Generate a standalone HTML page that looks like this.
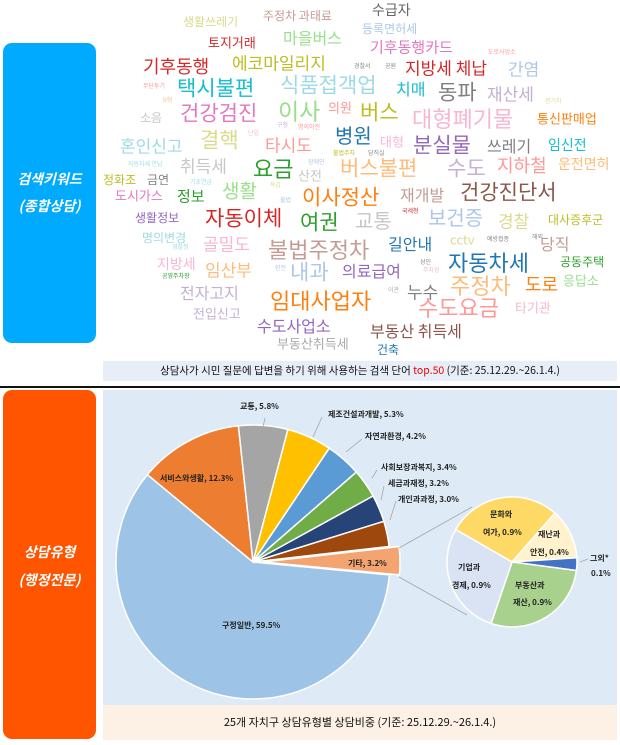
<!DOCTYPE html>
<html><head><meta charset="utf-8">
<style>
body{margin:0;width:620px;height:745px;background:#fff;position:relative;overflow:hidden;font-family:"Liberation Sans","Noto Sans CJK KR",sans-serif}
.w{position:absolute;white-space:nowrap;line-height:1;transform:translateY(-50%);font-family:"Noto Sans CJK KR","Liberation Sans",sans-serif}
.box{position:absolute;left:3px;width:93px;border-radius:9px;color:#fff;font-style:italic;font-weight:bold;font-size:14px;text-align:center;font-family:"Noto Sans CJK KR",sans-serif}
</style></head><body>
<div class="box" style="top:43px;height:300px;background:#00aaff"><div style="position:absolute;top:123px;width:100%;line-height:27px">검색키워드<br>(종합상담)</div></div>
<div class="box" style="top:390px;height:349px;background:#ff5500"><div style="position:absolute;top:148px;width:100%;line-height:28px">상담유형<br>(행정전문)</div></div>
<div style="position:absolute;left:0;top:386px;width:620px;height:2px;background:#111"></div>

<div class="w" style="left:372px;top:10px;font-size:14px;color:#666">수급자</div>
<div class="w" style="left:183px;top:22px;font-size:12px;color:#dbdb8d">생활쓰레기</div>
<div class="w" style="left:263px;top:16px;font-size:12px;color:#c49c94">주정차 과태료</div>
<div class="w" style="left:362px;top:29px;font-size:12px;color:#aec7e8">등록면허세</div>
<div class="w" style="left:208px;top:42px;font-size:13px;color:#d62728">토지거래</div>
<div class="w" style="left:283px;top:37px;font-size:16px;color:#98df8a">마을버스</div>
<div class="w" style="left:370px;top:47px;font-size:15px;color:#e377c2">기후동행카드</div>
<div class="w" style="left:488px;top:52px;font-size:6px;color:#ff9896">도로사업소</div>
<div class="w" style="left:143px;top:66px;font-size:18px;color:#d62728">기후동행</div>
<div class="w" style="left:232px;top:62px;font-size:17px;color:#bcbd22">에코마일리지</div>
<div class="w" style="left:354px;top:66px;font-size:6px;color:#888">경찰서</div>
<div class="w" style="left:385px;top:66px;font-size:6px;color:#888">공원</div>
<div class="w" style="left:405px;top:67px;font-size:17px;color:#d62728">지방세 체납</div>
<div class="w" style="left:508px;top:68px;font-size:17px;color:#aec7e8">간염</div>
<div class="w" style="left:143px;top:86px;font-size:6px;color:#ff9896">무단투기</div>
<div class="w" style="left:177px;top:88px;font-size:21px;color:#17becf">택시불편</div>
<div class="w" style="left:280px;top:85px;font-size:21px;color:#9edae5">식품접객업</div>
<div class="w" style="left:396px;top:88px;font-size:16px;color:#17becf">치매</div>
<div class="w" style="left:438px;top:92px;font-size:21px;color:#7f7f7f">동파</div>
<div class="w" style="left:487px;top:93px;font-size:17px;color:#c5b0d5">재산세</div>
<div class="w" style="left:163px;top:100px;font-size:6px;color:#ffbb78">b형</div>
<div class="w" style="left:545px;top:101px;font-size:6px;color:#dbdb8d">전기차</div>
<div class="w" style="left:180px;top:113px;font-size:21px;color:#e377c2">건강검진</div>
<div class="w" style="left:278px;top:110px;font-size:23px;color:#98df8a">이사</div>
<div class="w" style="left:328px;top:107px;font-size:13px;color:#ff9896">의원</div>
<div class="w" style="left:360px;top:112px;font-size:21px;color:#bcbd22">버스</div>
<div class="w" style="left:412px;top:118px;font-size:22px;color:#f7b6d2">대형폐기물</div>
<div class="w" style="left:537px;top:118px;font-size:13px;color:#ff7f0e">통신판매업</div>
<div class="w" style="left:140px;top:118px;font-size:12px;color:#c7c7c7">소음</div>
<div class="w" style="left:277px;top:125px;font-size:6px;color:#c5b0d5">구청</div>
<div class="w" style="left:298px;top:127px;font-size:6px;color:#ff9896">명의이전</div>
<div class="w" style="left:335px;top:135px;font-size:20px;color:#1f77b4">병원</div>
<div class="w" style="left:120px;top:145px;font-size:17px;color:#9edae5">혼인신고</div>
<div class="w" style="left:200px;top:140px;font-size:21px;color:#dbdb8d">결핵</div>
<div class="w" style="left:248px;top:133px;font-size:6px;color:#f7b6d2">난임</div>
<div class="w" style="left:265px;top:144px;font-size:17px;color:#ff9896">타시도</div>
<div class="w" style="left:380px;top:141px;font-size:13px;color:#f7b6d2">대형</div>
<div class="w" style="left:413px;top:145px;font-size:21px;color:#9467bd">분실물</div>
<div class="w" style="left:487px;top:145px;font-size:16px;color:#7f7f7f">쓰레기</div>
<div class="w" style="left:548px;top:145px;font-size:14px;color:#17becf">임신전</div>
<div class="w" style="left:333px;top:153px;font-size:6px;color:#bcbd22">불법주차</div>
<div class="w" style="left:368px;top:153px;font-size:6px;color:#888">당직실</div>
<div class="w" style="left:128px;top:164px;font-size:6px;color:#9edae5">자동차세 연납</div>
<div class="w" style="left:180px;top:165px;font-size:17px;color:#c7c7c7">취득세</div>
<div class="w" style="left:308px;top:162px;font-size:6px;color:#aec7e8">장애인</div>
<div class="w" style="left:253px;top:168px;font-size:22px;color:#2ca02c">요금</div>
<div class="w" style="left:340px;top:168px;font-size:21px;color:#ffbb78">버스불편</div>
<div class="w" style="left:447px;top:168px;font-size:21px;color:#c5b0d5">수도</div>
<div class="w" style="left:497px;top:165px;font-size:18px;color:#ff9896">지하철</div>
<div class="w" style="left:558px;top:164px;font-size:14px;color:#ffbb78">운전면허</div>
<div class="w" style="left:103px;top:180px;font-size:12px;color:#bcbd22">정화조</div>
<div class="w" style="left:147px;top:180px;font-size:12px;color:#7f7f7f">금연</div>
<div class="w" style="left:190px;top:182px;font-size:6px;color:#9edae5">기초연금</div>
<div class="w" style="left:298px;top:175px;font-size:13px;color:#c7c7c7">산전</div>
<div class="w" style="left:115px;top:195px;font-size:13px;color:#e377c2">도시가스</div>
<div class="w" style="left:177px;top:196px;font-size:15px;color:#2ca02c">정보</div>
<div class="w" style="left:222px;top:190px;font-size:19px;color:#98df8a">생활</div>
<div class="w" style="left:270px;top:185px;font-size:6px;color:#dbdb8d">독감</div>
<div class="w" style="left:280px;top:200px;font-size:6px;color:#aec7e8">불법</div>
<div class="w" style="left:302px;top:197px;font-size:21px;color:#ff7f0e">이사정산</div>
<div class="w" style="left:400px;top:194px;font-size:16px;color:#c49c94">재개발</div>
<div class="w" style="left:460px;top:192px;font-size:21px;color:#8c564b">건강진단서</div>
<div class="w" style="left:402px;top:211px;font-size:6px;color:#d62728">국세청</div>
<div class="w" style="left:135px;top:218px;font-size:12px;color:#9467bd">생활정보</div>
<div class="w" style="left:205px;top:218px;font-size:21px;color:#d62728">자동이체</div>
<div class="w" style="left:300px;top:222px;font-size:21px;color:#2ca02c">여권</div>
<div class="w" style="left:355px;top:220px;font-size:20px;color:#c7c7c7">교통</div>
<div class="w" style="left:428px;top:217px;font-size:20px;color:#aec7e8">보건증</div>
<div class="w" style="left:498px;top:220px;font-size:17px;color:#dbdb8d">경찰</div>
<div class="w" style="left:548px;top:220px;font-size:12px;color:#bcbd22">대사증후군</div>
<div class="w" style="left:142px;top:238px;font-size:12px;color:#9edae5">명의변경</div>
<div class="w" style="left:203px;top:243px;font-size:17px;color:#f7b6d2">골밀도</div>
<div class="w" style="left:268px;top:249px;font-size:22px;color:#c49c94">불법주정차</div>
<div class="w" style="left:388px;top:243px;font-size:16px;color:#1f77b4">길안내</div>
<div class="w" style="left:450px;top:239px;font-size:13px;color:#dbdb8d">cctv</div>
<div class="w" style="left:487px;top:239px;font-size:6px;color:#888">예방접종</div>
<div class="w" style="left:532px;top:237px;font-size:6px;color:#888">해외</div>
<div class="w" style="left:540px;top:243px;font-size:16px;color:#c49c94">당직</div>
<div class="w" style="left:172px;top:247px;font-size:6px;color:#9edae5">경찰청</div>
<div class="w" style="left:448px;top:262px;font-size:22px;color:#1f77b4">자동차세</div>
<div class="w" style="left:157px;top:264px;font-size:14px;color:#f7b6d2">지방세</div>
<div class="w" style="left:205px;top:269px;font-size:17px;color:#ffbb78">임산부</div>
<div class="w" style="left:560px;top:262px;font-size:12px;color:#2ca02c">공동주택</div>
<div class="w" style="left:420px;top:262px;font-size:6px;color:#888">성인</div>
<div class="w" style="left:423px;top:270px;font-size:6px;color:#f7b6d2">주차장</div>
<div class="w" style="left:275px;top:268px;font-size:6px;color:#aec7e8">한전</div>
<div class="w" style="left:162px;top:276px;font-size:6px;color:#2ca02c">공영주차장</div>
<div class="w" style="left:290px;top:272px;font-size:21px;color:#aec7e8">내과</div>
<div class="w" style="left:342px;top:270px;font-size:16px;color:#9467bd">의료급여</div>
<div class="w" style="left:563px;top:280px;font-size:13px;color:#98df8a">응답소</div>
<div class="w" style="left:450px;top:285px;font-size:22px;color:#ffbb78">주정차</div>
<div class="w" style="left:525px;top:284px;font-size:18px;color:#ff7f0e">도로</div>
<div class="w" style="left:180px;top:292px;font-size:16px;color:#c5b0d5">전자고지</div>
<div class="w" style="left:407px;top:291px;font-size:17px;color:#7f7f7f">누수</div>
<div class="w" style="left:388px;top:290px;font-size:6px;color:#aaa">이관</div>
<div class="w" style="left:270px;top:300px;font-size:22px;color:#ff7f0e">임대사업자</div>
<div class="w" style="left:418px;top:307px;font-size:22px;color:#ff9896">수도요금</div>
<div class="w" style="left:515px;top:307px;font-size:13px;color:#f7b6d2">타기관</div>
<div class="w" style="left:193px;top:313px;font-size:13px;color:#c5b0d5">전입신고</div>
<div class="w" style="left:257px;top:325px;font-size:16px;color:#9467bd">수도사업소</div>
<div class="w" style="left:370px;top:330px;font-size:16px;color:#8c564b">부동산 취득세</div>
<div class="w" style="left:277px;top:343px;font-size:13px;color:#aaa">부동산취득세</div>
<div class="w" style="left:377px;top:350px;font-size:12px;color:#1f77b4">건축</div>

<div style="position:absolute;left:103px;top:361px;width:514px;height:20px;background:#e8eef7;font-size:10.5px;line-height:20px;text-align:center;color:#111;font-family:'Noto Sans CJK KR',sans-serif">상담사가 시민 질문에 답변을 하기 위해 사용하는 검색 단어 <span style="color:#e00">top.50</span> (기준: 25.12.29.~26.1.4.)</div>

<div style="position:absolute;left:103px;top:390px;width:514px;height:315px;background:#deeaf6"></div>
<div style="position:absolute;left:103px;top:705px;width:514px;height:35px;background:#fdf0e4;font-size:11px;line-height:35px;text-align:center;color:#111;font-family:'Noto Sans CJK KR',sans-serif">25개 자치구 상담유형별 상담비중 (기준: 25.12.29.~26.1.4.)</div>

<svg style="position:absolute;left:0;top:0" width="620" height="745" font-family="Noto Sans CJK KR, sans-serif" font-weight="bold" font-size="8">
<g stroke="#fff" stroke-width="1.5">
<path d="M253,562 L389.4,574.9 A137,137 0 1 1 147.4,474.7Z" fill="#9dc3e6"/>
<path d="M253,562 L147.4,474.7 A137,137 0 0 1 238.4,425.8Z" fill="#ed7d31"/>
<path d="M253,562 L238.4,425.8 A137,137 0 0 1 287.9,429.5Z" fill="#a5a5a5"/>
<path d="M253,562 L287.9,429.5 A137,137 0 0 1 329.3,448.2Z" fill="#ffc000"/>
<path d="M253,562 L329.3,448.2 A137,137 0 0 1 356.4,472.1Z" fill="#5b9bd5"/>
<path d="M253,562 L356.4,472.1 A137,137 0 0 1 373.1,496Z" fill="#70ad47"/>
<path d="M253,562 L373.1,496 A137,137 0 0 1 383.8,521.3Z" fill="#264478"/>
<path d="M253,562 L383.8,521.3 A137,137 0 0 1 389.1,546.5Z" fill="#9e480e"/>
<path d="M263,562 L399.1,546.5 A137,137 0 0 1 399.4,574.9Z" fill="#f4a470"/>
<path d="M512,562 L455.7,529.5 A65,65 0 0 1 554.9,513.1Z" fill="#ffd966"/>
<path d="M512,562 L554.9,513.1 A65,65 0 0 1 576.9,557.7Z" fill="#fff2cc"/>
<path d="M512,562 L576.9,557.7 A65,65 0 0 1 576.4,570.5Z" fill="#4472c4"/>
<path d="M512,562 L576.4,570.5 A65,65 0 0 1 491.1,623.5Z" fill="#a9d18e"/>
<path d="M512,562 L491.1,623.5 A65,65 0 0 1 455.7,529.5Z" fill="#dae3f3"/>
</g>
<g stroke="#a6a6a6" fill="none" stroke-width="0.8">
<path d="M399,548 L472,507 M399,577 L467,615"/>
<path d="M265,418 L262,432 M322,417 L313,437 M362,439 L346,452 M377,470 L372,478 M384,486 L381,500 M396,501 L390,520 M580,562 L588,559"/>
</g>
<g fill="#222">
<text x="240" y="409">교통, 5.8%</text>
<text x="328" y="417">제조건설과개발, 5.3%</text>
<text x="365" y="439">자연과환경, 4.2%</text>
<text x="381" y="470">사회보장과복지, 3.4%</text>
<text x="388" y="486">세금과재정, 3.2%</text>
<text x="398" y="502">개인과과정, 3.0%</text>
<text x="160" y="481">서비스와생활, 12.3%</text>
<text x="222" y="628">구정일반, 59.5%</text>
<text x="348" y="566">기타, 3.2%</text>
<text x="490" y="517">문화와</text>
<text x="483" y="535">여가, 0.9%</text>
<text x="538" y="537">재난과</text>
<text x="530" y="555">안전, 0.4%</text>
<text x="458" y="570">기업과</text>
<text x="452" y="588">경제, 0.9%</text>
<text x="515" y="588">부동산과</text>
<text x="513" y="605">재산, 0.9%</text>
<text x="590" y="561">그외*</text>
<text x="591" y="576">0.1%</text>
</g>
</svg>
</body></html>
